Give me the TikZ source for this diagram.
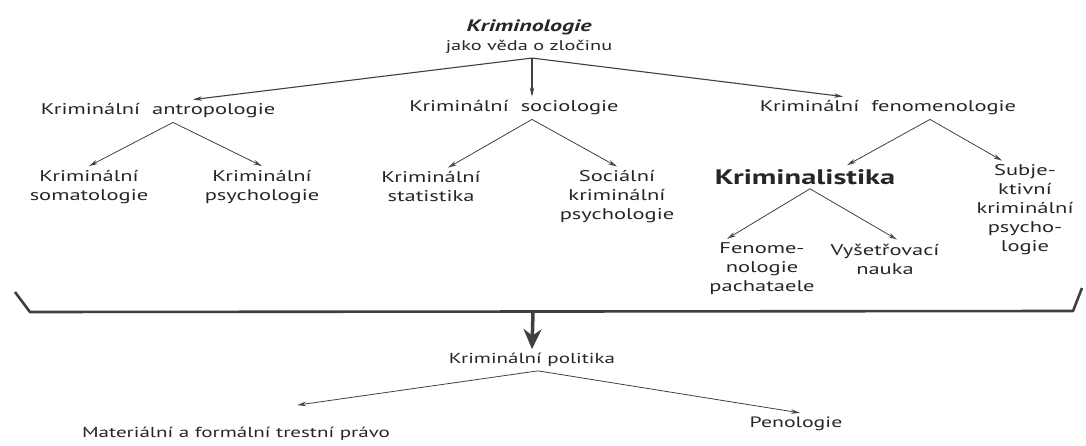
\documentclass[tikz,border=0pt]{standalone}
\usepackage{fontspec}
\setmainfont{PT Sans}[FakeStretch=1.45]
\usepackage{tikz}
\usetikzlibrary{arrows.meta}

\begin{document}
\begin{tikzpicture}[x=1pt, y=-1pt,
  lbl/.style={font=\fontsize{15.5}{19}\selectfont, align=center, inner sep=4pt, text=black!85},
  sml/.style={font=\fontsize{14.5}{17}\selectfont, inner sep=4pt, text=black!85},
  arr/.style={draw=black!75, line width=0.8pt, -{Stealth[open, length=9pt, width=4.5pt]}}]
\useasboundingbox (0,0) rectangle (1086,446);
% top level
\node[lbl, font=\fontsize{14}{19}\selectfont] (krim) at (529,37) {{\fontsize{16.5}{19}\selectfont\bfseries\itshape Kriminologie}\\jako věda o zločinu};
\node[lbl] (antro) at (158,111) {Kriminální\ \ antropologie};
\node[lbl] (socio) at (514,108) {Kriminální\ \ sociologie};
\node[lbl] (feno) at (888,108) {Kriminální\ \ fenomenologie};
% second level
\node[lbl] (soma) at (89,187) {Kriminální\\somatologie};
\node[lbl] (psych) at (262,187) {Kriminální\\psychologie};
\node[lbl] (stat) at (431,187) {Kriminální\\statistika};
\node[lbl] (socpsych) at (617,197) {Sociální\\kriminální\\psychologie};
\node[lbl, font=\fontsize{21}{24}\selectfont\bfseries] (kstika) at (805,177) {Kriminalistika};
\node[lbl] (subj) at (1025,210) {Subje-\\ktivní\\kriminální\\psycho-\\logie};
\node[lbl] (fenpach) at (762,269) {Fenome-\\nologie\\pachataele};
\node[lbl] (vysetr) at (885,259) {Vyšetřovací\\nauka};
% politics
\node[sml] (polit) at (532,360) {Kriminální\ politika};
\node[sml] (pravo) at (236,434) {Materiální a formální trestní právo};
\node[sml, font=\fontsize{15}{17}\selectfont] (peno) at (796,424) {Penologie};

\draw[arr, line width=1.1pt] ([xshift=3pt]krim.south) -- ([xshift=35pt]antro.north);
\draw[arr, line width=1.1pt, -{Stealth[length=9pt, width=4.5pt]}] ([xshift=3pt]krim.south) -- ([xshift=18pt]socio.north);
\draw[arr, line width=1.1pt] ([xshift=3pt]krim.south) -- ([xshift=-45pt]feno.north);
\draw[arr] ([xshift=15pt]antro.south) -- (soma.north);
\draw[arr] ([xshift=15pt]antro.south) -- (psych.north);
\draw[arr] ([xshift=18pt]socio.south) -- ([xshift=17pt]stat.north);
\draw[arr] ([xshift=18pt]socio.south) -- (socpsych.north);
\draw[arr] ([xshift=42pt]feno.south) -- ([xshift=42pt]kstika.north);
\draw[arr] ([xshift=42pt]feno.south) -- ([xshift=-23pt]subj.north);
\draw[arr] ([xshift=5pt]kstika.south) -- ([xshift=-35pt]fenpach.north);
\draw[arr] ([xshift=5pt]kstika.south) -- ([xshift=12pt]vysetr.north);
\draw[arr] ([xshift=6pt]polit.south) -- ([xshift=61pt, yshift=18pt]pravo.north);
\draw[arr] ([xshift=6pt]polit.south) -- ([xshift=4pt]peno.north);

% bracket
\draw[black!75, line width=2.6pt, line join=round] (15,292) -- (30,312) -- (1073,311) -- (1082,288);
\coordinate (brk) at (533,312);
\draw[black!75, line width=3.5pt, -{Stealth[length=20pt, width=18pt]}] (brk) -- (polit.north);
\end{tikzpicture}
\end{document}
